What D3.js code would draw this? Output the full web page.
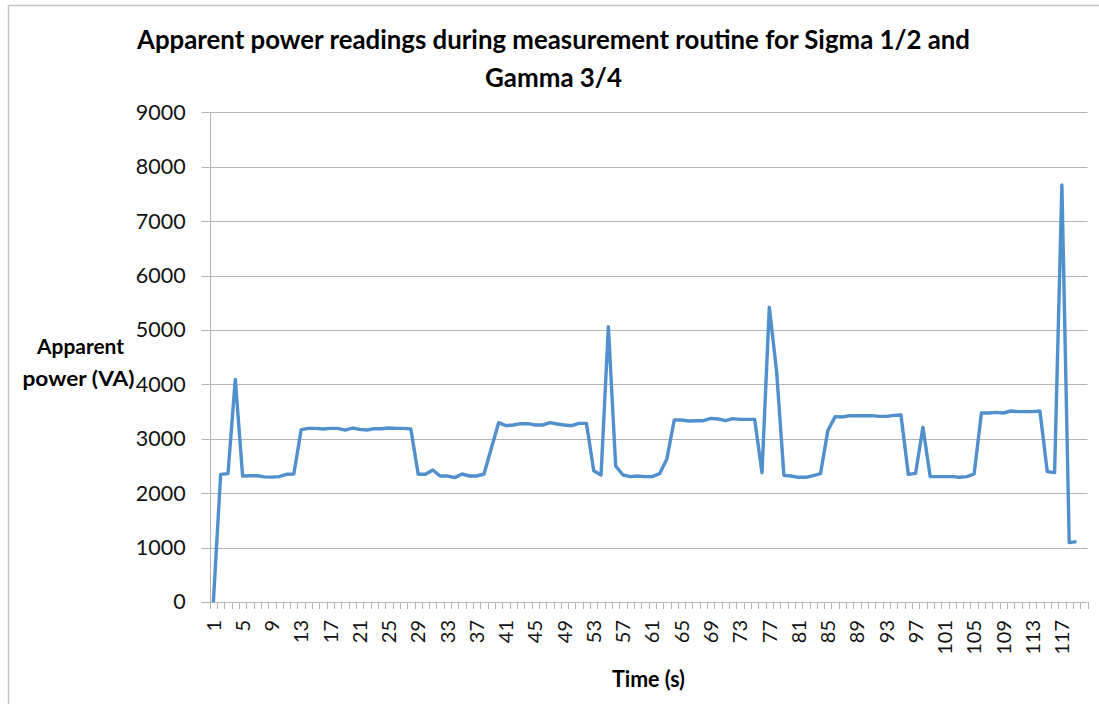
<!DOCTYPE html>
<html>
<head>
<meta charset="utf-8">
<script src="https://cdn.jsdelivr.net/npm/d3@7"></script>
<style>
  body { margin: 0; background: #fff; }
  svg { display: block; font-family: Lato, "Open Sans", sans-serif; }
</style>
</head>
<body>
<svg width="1099" height="704"></svg>
<script>
// categories on the x axis (seconds), 120 slots, readings for the first 119
const seconds = d3.range(1, 121);
const yTicks = [0, 1000, 2000, 3000, 4000, 5000, 6000, 7000, 8000, 9000];
const xTickLabels = d3.range(1, 121, 4);

// apparent power readings (VA)
const power = [
  0, 2347, 2360, 4093, 2316, 2320, 2320, 2300, 2295, 2305,
  2347, 2353, 3168, 3192, 3192, 3180, 3192, 3192, 3161, 3198,
  3173, 3161, 3186, 3186, 3198, 3192, 3192, 3180, 2347, 2347,
  2426, 2316, 2316, 2286, 2353, 2316, 2316, 2353, 2825, 3296,
  3241, 3253, 3278, 3278, 3253, 3253, 3296, 3272, 3253, 3241,
  3284, 3284, 2414, 2335, 5061, 2500, 2335, 2304, 2316, 2304,
  2304, 2359, 2630, 3346, 3346, 3327, 3333, 3333, 3376, 3364,
  3333, 3370, 3358, 3358, 3358, 2377, 5417, 4234, 2328, 2316,
  2292, 2292, 2322, 2359, 3150, 3407, 3401, 3425, 3425, 3425,
  3425, 3413, 3413, 3431, 3437, 2347, 2365, 3211, 2304, 2304,
  2304, 2304, 2292, 2304, 2353, 3474, 3474, 3486, 3474, 3511,
  3499, 3499, 3499, 3511, 2396, 2377, 7665, 1091, 1110
];

const titleLines = ["Apparent power readings during measurement routine for Sigma 1/2 and", "Gamma 3/4"];
const yTitleLines = ["Apparent", "power (VA)"];
const xTitle = "Time (s)";

const svg = d3.select("svg");
const gridColor = "#b4b4b4";
const lineColor = "#5090cc";

const plotLeft = 209.7, plotRight = 1087.5, plotTop = 112.4, plotBottom = 602;

const x = d3.scaleBand().domain(seconds).range([plotLeft, plotRight]).padding(0);
const y = d3.scaleLinear().domain([0, 9000]).range([plotBottom, plotTop]);

// chart border (runs off the right and bottom of the picture)
svg.append("rect")
  .attr("x", 8.5).attr("y", 5.5)
  .attr("width", 1200).attr("height", 800)
  .attr("fill", "none").attr("stroke", "#c4c4c4").attr("stroke-width", 1.5);

// gridlines, each one also makes the little tick left of the axis
svg.append("g")
  .selectAll("line")
  .data(yTicks)
  .enter().append("line")
    .attr("x1", plotLeft - 8).attr("x2", plotRight)
    .attr("y1", d => Math.round(y(d)) + 0.5)
    .attr("y2", d => Math.round(y(d)) + 0.5)
    .attr("stroke", gridColor).attr("stroke-width", 1);

// y axis labels
const yAxis = svg.append("g")
  .attr("transform", `translate(${plotLeft},0)`)
  .call(d3.axisLeft(y).tickValues(yTicks).tickSize(8).tickPadding(16).tickFormat(d3.format("d")));
yAxis.select(".domain").remove();
yAxis.selectAll(".tick line").remove();
yAxis.selectAll("text")
  .attr("font-size", 21.5).attr("font-family", "Lato, sans-serif").attr("fill", "#111");

// vertical axis line
svg.append("line")
  .attr("x1", Math.round(plotLeft) + 0.5).attr("x2", Math.round(plotLeft) + 0.5)
  .attr("y1", y(9000)).attr("y2", plotBottom + 7)
  .attr("stroke", gridColor).attr("stroke-width", 1);

// x tick marks sit between the categories
svg.append("g")
  .selectAll("line")
  .data(seconds.concat([null]))
  .enter().append("line")
    .attr("x1", d => Math.round(d === null ? plotRight : x(d)) + 0.5)
    .attr("x2", d => Math.round(d === null ? plotRight : x(d)) + 0.5)
    .attr("y1", plotBottom).attr("y2", plotBottom + 7)
    .attr("stroke", gridColor).attr("stroke-width", 1);

// x tick labels, rotated
const xAxis = svg.append("g")
  .attr("transform", `translate(0,${plotBottom})`)
  .call(d3.axisBottom(x).tickValues(xTickLabels).tickSize(0));
xAxis.select(".domain").remove();
xAxis.selectAll("text")
  .attr("font-size", 20).attr("font-family", "Lato, sans-serif").attr("fill", "#111")
  .attr("transform", "rotate(-90)")
  .attr("text-anchor", "end")
  .attr("x", -18).attr("y", 0).attr("dy", "0.36em");

// the series
const line = d3.line()
  .x((d, i) => x(seconds[i]) + x.bandwidth() / 2)
  .y(d => y(d));

svg.append("path")
  .datum(power)
  .attr("d", line)
  .attr("fill", "none")
  .attr("stroke", lineColor)
  .attr("stroke-width", 3.4)
  .attr("stroke-linejoin", "round");

// titles, squeezed to the width Calibri took in the original
const squeeze = (sel, width) => sel.attr("textLength", width).attr("lengthAdjust", "spacingAndGlyphs");

squeeze(svg.append("text")
  .attr("x", 553.5).attr("y", 49)
  .attr("text-anchor", "middle").attr("font-weight", "bold").attr("font-size", 26)
  .attr("fill", "#000")
  .text(titleLines[0]), 833);
squeeze(svg.append("text")
  .attr("x", 553.5).attr("y", 87)
  .attr("text-anchor", "middle").attr("font-weight", "bold").attr("font-size", 26)
  .attr("fill", "#000")
  .text(titleLines[1]), 137);

const yt = svg.append("g").attr("font-weight", "bold").attr("fill", "#000").attr("font-size", 21);
squeeze(yt.append("text")
  .attr("x", 80.5).attr("y", 354).attr("text-anchor", "middle")
  .text(yTitleLines[0]), 87);
squeeze(yt.append("text")
  .attr("x", 78.5).attr("y", 386).attr("text-anchor", "middle")
  .text(yTitleLines[1]), 112);

squeeze(svg.append("text")
  .attr("x", 648.5).attr("y", 687).attr("text-anchor", "middle")
  .attr("font-weight", "bold").attr("font-size", 22).attr("fill", "#000")
  .text(xTitle), 73);
</script>
</body>
</html>
